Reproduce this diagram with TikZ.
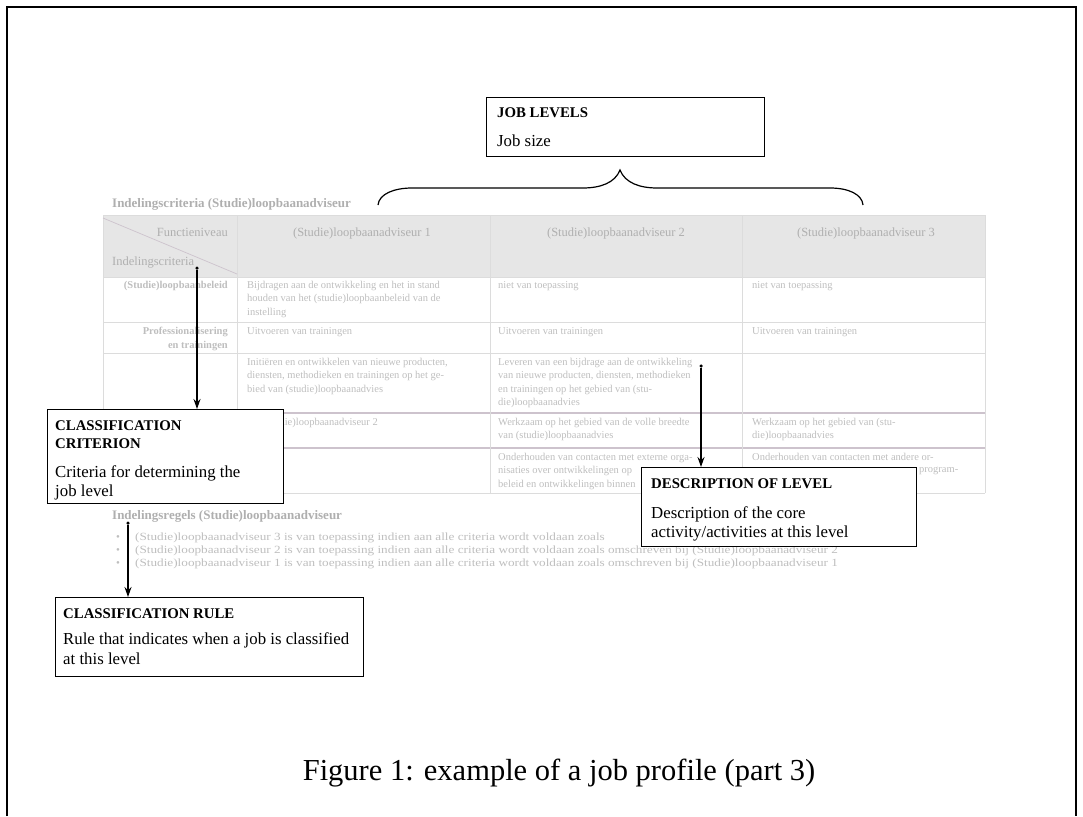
\documentclass[tikz,border=0pt]{standalone}
\usepackage{fontspec}
\setmainfont{Liberation Serif}
\usetikzlibrary{arrows.meta}
\definecolor{tg}{HTML}{BEBEBE}
\definecolor{th}{HTML}{AFAFAF}
\definecolor{hfill}{HTML}{E6E6E6}
\definecolor{gline}{HTML}{DCDCDC}
\definecolor{pline}{HTML}{CDC3CD}
\tikzset{
  frame/.style={line width=1.1pt, black},
  annbox/.style={draw=black, line width=1.1pt, fill=white, rectangle, inner sep=0pt, anchor=north west},
  anhead/.style={font=\fontsize{14.8}{17}\selectfont\bfseries, inner sep=0pt, anchor=base west},
  anbody/.style={font=\fontsize{16.8}{20}\selectfont, inner sep=0pt, anchor=base west},
  cell/.style={font=\fontsize{10.5}{13.5}\selectfont, text=tg, inner sep=0pt, anchor=north west, align=left},
  cellr/.style={font=\fontsize{10.5}{13.5}\selectfont\bfseries, text=tg, inner sep=0pt, anchor=north east, align=right},
  chead/.style={font=\fontsize{12.5}{14}\selectfont, text=th, inner sep=0pt, anchor=base},
  ttl/.style={font=\fontsize{13}{15}\selectfont\bfseries, text=th, inner sep=0pt, anchor=base west},
  bul/.style={font=\fontsize{11}{13}\selectfont, text=tg, inner sep=0pt, anchor=base west},
  pointer/.style={line width=1.3pt, -{Stealth[length=10pt,width=7pt]}},
  dotc/.style={circle, fill=black, inner sep=0pt, minimum size=3.5pt},
  brace/.style={line width=1.2pt}
}
\newcommand{\wideline}[1]{\scalebox{1.2}[1]{#1}}
\begin{document}
\begin{tikzpicture}[x=1pt,y=-1pt]
\useasboundingbox (0,0) rectangle (1083,816);
\draw[frame] (7,816) -- (7,7) -- (1076,7) -- (1076,816);

% ---- background table (faded) ----
\node[ttl] (ttlcrit) at (112,207) {Indelingscriteria (Studie)loopbaanadviseur};
\fill[hfill] (103,215) rectangle (985,277);
\draw[gline, line width=0.8pt] (103,215) -- (985,215);
\foreach \y in {277,322,353} \draw[gline, line width=0.9pt] (103,\y) -- (985,\y);
\foreach \y in {413,448} \draw[pline, line width=1.1pt] (103,\y) -- (985,\y);
\draw[gline, line width=1pt] (103,493) -- (985,493);
\foreach \x in {103,237,490,742,985} \draw[gline, line width=0.8pt] (\x,215) -- (\x,493);
\draw[pline, line width=0.7pt] (103,218) -- (237,274);

\node[chead, anchor=base east] (hfunc) at (228,236) {Functieniveau};
\node[chead, anchor=base west] (hcrit) at (112,265) {Indelingscriteria};
\node[chead] (h1) at (362,236) {(Studie)loopbaanadviseur 1};
\node[chead] (h2) at (616,236) {(Studie)loopbaanadviseur 2};
\node[chead] (h3) at (866,236) {(Studie)loopbaanadviseur 3};

\node[cellr] (r1a) at (228,281) {(Studie)loopbaanbeleid};
\node[cell] (r1b) at (247,281) {Bijdragen aan de ontwikkeling en het in stand\\houden van het (studie)loopbaanbeleid van de\\instelling};
\node[cell] (r1c) at (498,281) {niet van toepassing};
\node[cell] (r1d) at (752,281) {niet van toepassing};

\node[cellr] (r2a) at (228,327) {Professionalisering\\en trainingen};
\node[cell] (r2b) at (247,327) {Uitvoeren van trainingen};
\node[cell] (r2c) at (498,327) {Uitvoeren van trainingen};
\node[cell] (r2d) at (752,327) {Uitvoeren van trainingen};

\node[cell] (r3b) at (247,358) {Initiëren en ontwikkelen van nieuwe producten,\\diensten, methodieken en trainingen op het ge-\\bied van (studie)loopbaanadvies};
\node[cell] (r3c) at (498,358) {Leveren van een bijdrage aan de ontwikkeling\\van nieuwe producten, diensten, methodieken\\en trainingen op het gebied van (stu-\\die)loopbaanadvies};

\node[cell] (r4b) at (247,418) {Zie (studie)loopbaanadviseur 2};
\node[cell] (r4c) at (498,418) {Werkzaam op het gebied van de volle breedte\\van (studie)loopbaanadvies};
\node[cell] (r4d) at (752,418) {Werkzaam op het gebied van (stu-\\die)loopbaanadvies};

\node[cell] (r5c) at (498,453) {Onderhouden van contacten met externe orga-\\nisaties over ontwikkelingen op\\beleid en ontwikkelingen binnen};
\node[cell] (r5d) at (752,453) {Onderhouden van contacten met andere or-};
\node[cell] (r5e) at (919,467) {program-};

\node[ttl] (ttlrule) at (112,519) {Indelingsregels (Studie)loopbaanadviseur};
\node[bul] (b3dot) at (116,540) {\textbullet};
\node[bul] (b3) at (135,540) {\wideline{(Studie)loopbaanadviseur 3 is van toepassing indien aan alle criteria wordt voldaan zoals}};
\node[bul] (b2dot) at (116,553) {\textbullet};
\node[bul] (b2) at (135,553) {\wideline{(Studie)loopbaanadviseur 2 is van toepassing indien aan alle criteria wordt voldaan zoals omschreven bij (Studie)loopbaanadviseur 2}};
\node[bul] (b1dot) at (116,566) {\textbullet};
\node[bul] (b1) at (135,566) {\wideline{(Studie)loopbaanadviseur 1 is van toepassing indien aan alle criteria wordt voldaan zoals omschreven bij (Studie)loopbaanadviseur 1}};

% ---- brace ----
\draw[brace] (378,205) .. controls (379,194) and (394,188) .. (412,188) -- (583,188)
  .. controls (600,188) and (615,183) .. (620,170)
  .. controls (625,183) and (640,188) .. (657,188) -- (830,188)
  .. controls (848,188) and (862,194) .. (863,205);

% ---- annotation boxes ----
\node[annbox, minimum width=278pt, minimum height=59pt] (joblev) at (486,97) {};
\node[anhead] (joblevh) at (497,117) {JOB LEVELS};
\node[anbody] (joblevb) at (497,146) {Job size};

\coordinate (critsrc) at (197,268);
\node[dotc] (critdot) at (critsrc) {};
\node[annbox, minimum width=236pt, minimum height=94pt] (crit) at (47,409) {};
\node[anhead] (crith1) at (55,430) {CLASSIFICATION};
\node[anhead] (crith2) at (55,448) {CRITERION};
\node[anbody] (critb1) at (55,477) {Criteria for determining the};
\node[anbody] (critb2) at (55,496) {job level};
\draw[pointer] (critdot) -- (critdot |- crit.north);

\coordinate (descsrc) at (701,366);
\node[dotc] (descdot) at (descsrc) {};
\node[annbox, minimum width=275pt, minimum height=79pt] (desc) at (641,467) {};
\node[anhead] (desch) at (651,488) {DESCRIPTION OF LEVEL};
\node[anbody] (descb1) at (651,518) {Description of the core};
\node[anbody] (descb2) at (651,537) {activity/activities at this level};
\draw[pointer] (descdot) -- (descdot |- desc.north);

\coordinate (rulesrc) at (128,523);
\node[dotc] (ruledot) at (rulesrc) {};
\node[annbox, minimum width=308pt, minimum height=79pt] (rule) at (55,597) {};
\node[anhead] (ruleh) at (63,618) {CLASSIFICATION RULE};
\node[anbody] (ruleb1) at (63,644) {Rule that indicates when a job is classified};
\node[anbody] (ruleb2) at (63,664) {at this level};
\draw[pointer] (ruledot) -- (ruledot |- rule.north);

% ---- caption ----
\node[font=\fontsize{30.5}{36}\selectfont, inner sep=0pt, anchor=base] (cap) at (559,780) {Figure 1: example of a job profile (part 3)};
\end{tikzpicture}
\end{document}
